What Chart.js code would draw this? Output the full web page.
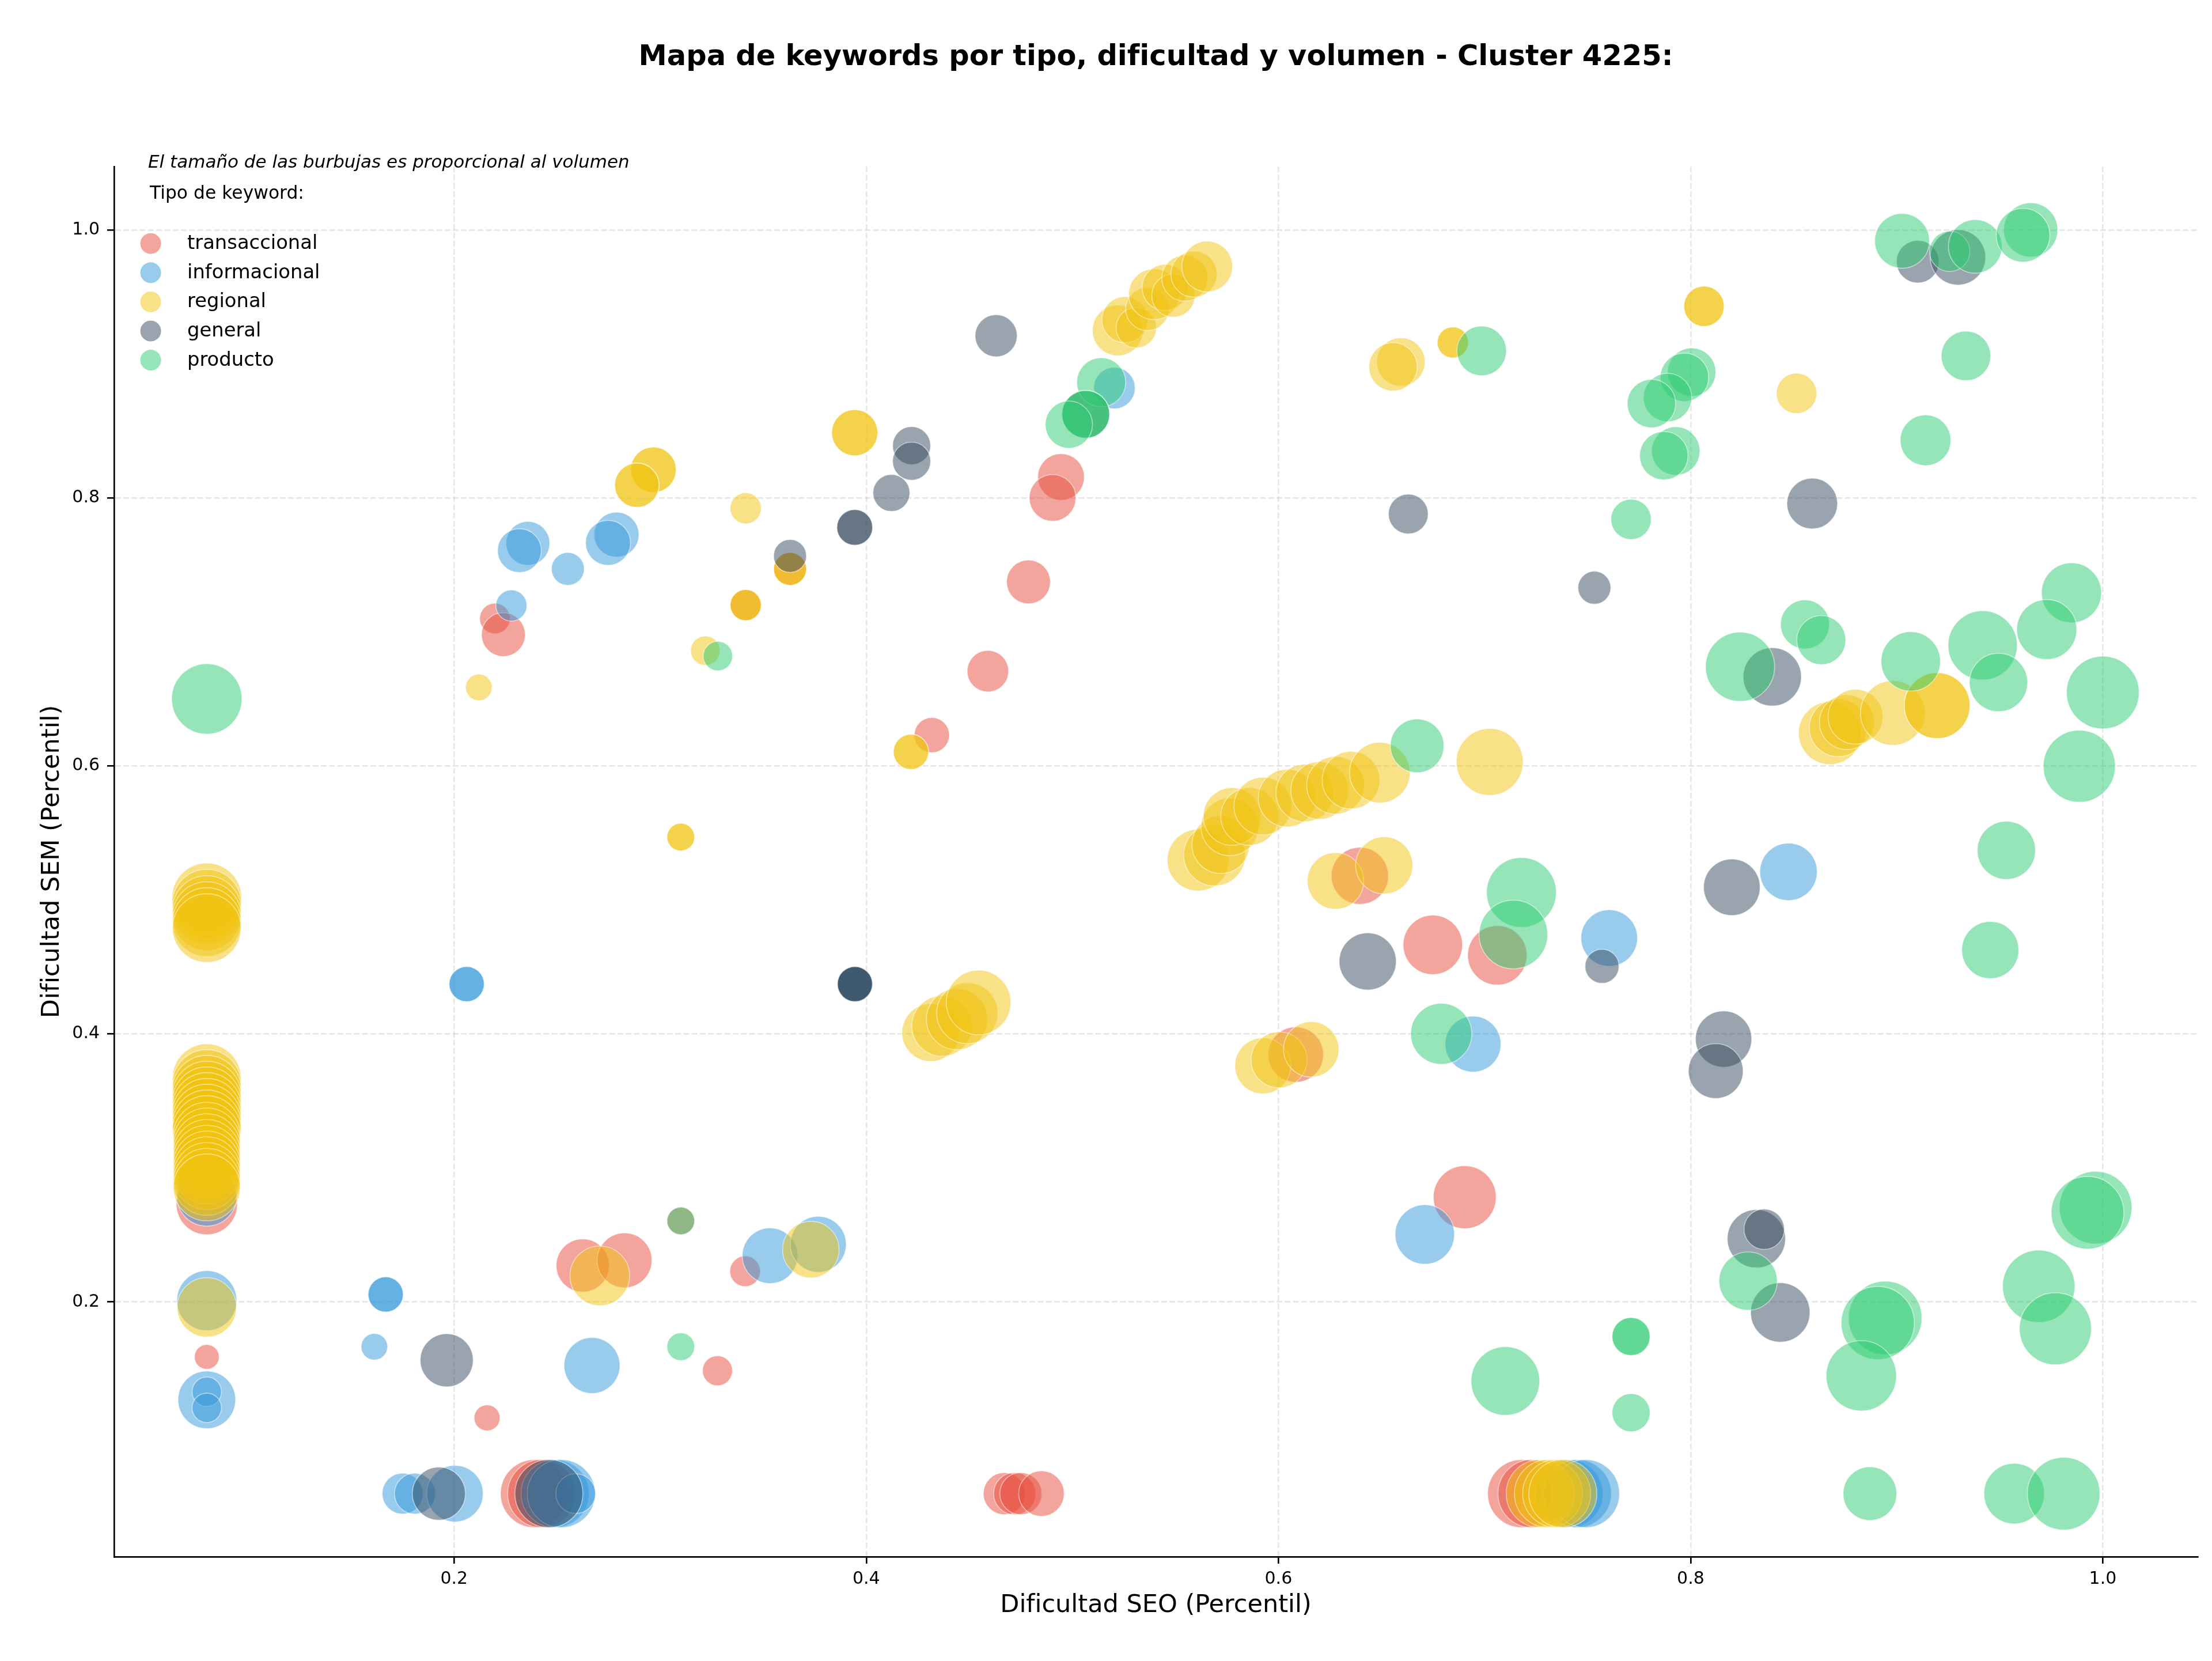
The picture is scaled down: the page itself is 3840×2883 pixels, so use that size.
<!DOCTYPE html>
<html lang="es">
<head>
<meta charset="utf-8">
<title>Mapa de keywords - Cluster 4225</title>
<script src="https://cdn.jsdelivr.net/npm/chart.js@4.4.1/dist/chart.umd.min.js"></script>
<style>
  html, body { margin: 0; padding: 0; background: #ffffff; }
  #mapa { display: block; width: 3840px; height: 2883px; }
</style>
</head>
<body>
<canvas id="mapa" width="3840" height="2883"></canvas>
<script>
// Datos (seo = Dificultad SEO, sem = Dificultad SEM, vol = volumen)
var categorias = ["transaccional", "informacional", "regional", "general", "producto"];
var colores = ["#e74c3c", "#3498db", "#f1c40f", "#34495e", "#2ecc71"];
var xTicks = [0.2, 0.4, 0.6, 0.8, 1.0];
var yTicks = [0.2, 0.4, 0.6, 0.8, 1.0];

var seoTrans = [0.08, 0.08, 0.2198, 0.2239, 0.216, 0.2624, 0.2827, 0.3412, 0.3278, 0.31,
  0.3415, 0.363, 0.239, 0.2425, 0.467, 0.472, 0.475, 0.485, 0.4318, 0.459,
  0.4787, 0.4945, 0.4904, 0.6395, 0.6749, 0.7062, 0.6084, 0.6904, 0.718, 0.723];
var semTrans = [0.273, 0.159, 0.710, 0.698, 0.1135, 0.2272, 0.2311, 0.2229, 0.1487, 0.2605,
  0.72, 0.747, 0.057, 0.057, 0.057, 0.057, 0.057, 0.057, 0.623, 0.6707,
  0.7373, 0.8156, 0.800, 0.518, 0.4665, 0.4587, 0.3846, 0.2782, 0.057, 0.057];
var volTrans = [1248, 205, 312, 642, 225, 940, 1003, 312, 300, 256,
  324, 361, 1547, 1547, 592, 592, 592, 693, 413, 576,
  642, 729, 729, 1089, 1178, 1178, 1024, 1320, 1547, 1547];

var seoInfo = [0.08, 0.08, 0.08, 0.08, 0.08, 0.2358, 0.2317, 0.2552, 0.2788, 0.2747,
  0.2278, 0.2061, 0.2061, 0.3945, 0.1668, 0.1668, 0.1613, 0.2669, 0.3533, 0.3767,
  0.175, 0.181, 0.2004, 0.249, 0.252, 0.259, 0.5204, 0.671, 0.6944, 0.7605,
  0.8475, 0.741, 0.745, 0.749];
var semInfo = [0.279, 0.201, 0.127, 0.133, 0.121, 0.7661, 0.7607, 0.747, 0.7726, 0.7665,
  0.7197, 0.4372, 0.4372, 0.4372, 0.2056, 0.2056, 0.1666, 0.1526, 0.2345, 0.243,
  0.057, 0.057, 0.057, 0.057, 0.057, 0.057, 0.882, 0.2504, 0.3924, 0.4716,
  0.521, 0.057, 0.057, 0.057];
var volInfo = [1202, 1202, 1111, 289, 289, 642, 642, 361, 676, 676,
  324, 413, 413, 413, 413, 413, 235, 1045, 1033, 1045,
  560, 560, 1067, 1547, 1547, 529, 576, 1178, 1045, 1067,
  1100, 1547, 1547, 1547];

var seoReg = [
  0.08, 0.08, 0.08, 0.08, 0.08, 0.08, 0.08, 0.08, 0.08, 0.08,
  0.08, 0.08, 0.08, 0.08, 0.08, 0.08, 0.08, 0.08, 0.08, 0.08,
  0.08, 0.08, 0.08, 0.08, 0.08, 0.08, 0.08,
  0.2967, 0.2967, 0.2887, 0.2887, 0.3415, 0.3415, 0.3415, 0.3219, 0.212, 0.363,
  0.363, 0.3944, 0.3944, 0.4217, 0.4217, 0.31, 0.31,
  0.522, 0.5255, 0.531, 0.5364, 0.5396, 0.545, 0.549, 0.5546, 0.559, 0.5654,
  0.6594, 0.6556, 0.6846, 0.6846, 0.8065, 0.8065, 0.8514,
  0.561, 0.569, 0.572, 0.5764, 0.5775, 0.586, 0.5924, 0.6042, 0.6128, 0.620,
  0.6277, 0.6352, 0.6492,
  0.7025, 0.6277, 0.6513, 0.5924, 0.6003, 0.6159,
  0.4313, 0.4368, 0.444, 0.449, 0.4545,
  0.2707, 0.3731,
  0.8676, 0.8716, 0.8758, 0.88, 0.8981, 0.9196, 0.9196,
  0.727, 0.731, 0.735, 0.738];
var semReg = [
  0.367, 0.3627, 0.3584, 0.3541, 0.3498, 0.3455, 0.3412, 0.3369, 0.3326, 0.3283,
  0.324, 0.3197, 0.3154, 0.3111, 0.3068, 0.3025, 0.2982, 0.2939, 0.2896, 0.2855,
  0.5015, 0.497, 0.4925, 0.488, 0.4835, 0.479, 0.196,
  0.821, 0.821, 0.8095, 0.8095, 0.7923, 0.72, 0.72, 0.686, 0.6586, 0.747,
  0.747, 0.8487, 0.8487, 0.6105, 0.6105, 0.5469, 0.5469,
  0.925, 0.933, 0.927, 0.941, 0.952, 0.957, 0.951, 0.964, 0.967, 0.9727,
  0.9015, 0.8978, 0.916, 0.916, 0.943, 0.943, 0.878,
  0.5297, 0.5335, 0.5413, 0.5546, 0.5623, 0.5623, 0.570, 0.576, 0.5798, 0.5817,
  0.5856, 0.5894, 0.595,
  0.603, 0.5142, 0.5258, 0.3762, 0.3807, 0.3885,
  0.401, 0.406, 0.411, 0.4155, 0.4235,
  0.2195, 0.2391,
  0.6245, 0.6285, 0.6327, 0.6367, 0.6395, 0.645, 0.645,
  0.057, 0.057, 0.057, 0.057];
var volReg = [
  1574, 1574, 1574, 1574, 1574, 1574, 1574, 1574, 1574, 1574,
  1500, 1500, 1500, 1500, 1500, 1500, 1500, 1500, 1500, 1500,
  1627, 1600, 1574, 1574, 1574, 1574, 1178,
  693, 693, 659, 659, 324, 324, 324, 289, 235, 361,
  361, 711, 711, 413, 413, 256, 256,
  860, 711, 544, 625, 860, 711, 625, 711, 711, 860,
  784, 784, 324, 324, 544, 544, 544,
  1272, 1272, 1111, 1111, 1111, 1111, 1111, 1111, 1111, 1111,
  1111, 1111, 1225,
  1495, 1067, 1089, 1045, 1045, 1024,
  1111, 1225, 1248, 1248, 1394,
  1192, 1067,
  1320, 1111, 1003, 1003, 1394, 1444, 1444,
  1547, 1547, 1547, 1547];

var seoGen = [0.1926, 0.246, 0.1964, 0.3945, 0.3945, 0.3945, 0.363, 0.3944, 0.3944, 0.4122,
  0.422, 0.422, 0.463, 0.663, 0.6433, 0.757, 0.7533, 0.859, 0.9102, 0.9297,
  0.8396, 0.820, 0.816, 0.8122, 0.8319, 0.8357, 0.8435, 0.5065];
var semGen = [0.057, 0.057, 0.1565, 0.4372, 0.4372, 0.4372, 0.7567, 0.778, 0.778, 0.8037,
  0.839, 0.8274, 0.921, 0.788, 0.4541, 0.4505, 0.733, 0.7958, 0.9763, 0.9795,
  0.6665, 0.5095, 0.3962, 0.3723, 0.2472, 0.2543, 0.1922, 0.8624];
var volGen = [940, 1547, 940, 413, 413, 413, 361, 427, 427, 455,
  484, 484, 592, 529, 1089, 387, 361, 860, 608, 1024,
  1133, 1067, 1058, 1003, 1133, 544, 1178, 765];

var seoProd = [0.08, 0.328, 0.31, 0.31, 0.514, 0.5065, 0.5065, 0.4983, 0.6673, 0.6986,
  0.8005, 0.797, 0.7888, 0.781, 0.7928, 0.787, 0.9336, 0.914, 0.7711, 0.9026,
  0.9257, 0.9381, 0.965, 0.9613, 0.9848, 0.9728, 0.9417, 0.9494, 0.9068, 0.8555,
  0.8634, 0.824, 1.0, 0.9886, 0.9532, 0.9454, 0.7179, 0.714, 0.679, 0.7101,
  0.7711, 0.7711, 0.7711, 0.8279, 0.8944, 0.8908, 0.8828, 0.9689, 0.977, 0.9965,
  0.9926, 0.887, 0.957, 0.981];
var semProd = [0.650, 0.682, 0.1666, 0.2605, 0.8863, 0.8624, 0.8624, 0.8547, 0.615, 0.9097,
  0.8938, 0.890, 0.8749, 0.8704, 0.835, 0.8315, 0.906, 0.843, 0.784, 0.9918,
  0.984, 0.9877, 1.0, 0.996, 0.7292, 0.7018, 0.690, 0.6623, 0.678, 0.7056,
  0.6939, 0.674, 0.6548, 0.5998, 0.537, 0.4626, 0.5056, 0.4742, 0.4001, 0.141,
  0.1742, 0.1742, 0.1174, 0.2156, 0.1881, 0.1843, 0.1449, 0.2117, 0.180, 0.2704,
  0.2666, 0.057, 0.057, 0.057];
var volProd = [1654, 289, 256, 256, 803, 765, 765, 747, 961, 822,
  784, 784, 784, 784, 784, 784, 822, 860, 544, 1003,
  544, 961, 982, 961, 1202, 1202, 1600, 1133, 1178, 803,
  803, 1600, 1764, 1736, 1133, 1089, 1627, 1574, 1248, 1574,
  484, 484, 484, 1133, 1806, 1792, 1654, 1750, 1736, 1764,
  1764, 961, 1225, 1764];

var titulo = "Mapa de keywords por tipo, dificultad y volumen - Cluster 4225:";
var nota = "El tamaño de las burbujas es proporcional al volumen";
var tituloLeyenda = "Tipo de keyword:";

var fuente = "'DejaVu Sans', sans-serif";

// color hex + alpha -> rgba
function rgba(hex, a) {
  var n = parseInt(hex.slice(1), 16);
  return "rgba(" + (n >> 16) + "," + ((n >> 8) & 255) + "," + (n & 255) + "," + a + ")";
}

// arma los puntos de una serie; radio proporcional a la raiz del volumen (area ~ volumen)
function puntos(seo, sem, vol) {
  return seo.map(function (x, i) {
    return { x: x, y: sem[i], r: Math.sqrt(vol[i]) * 1.5 };
  });
}

var series = [
  puntos(seoTrans, semTrans, volTrans),
  puntos(seoInfo, semInfo, volInfo),
  puntos(seoReg, semReg, volReg),
  puntos(seoGen, semGen, volGen),
  puntos(seoProd, semProd, volProd)
];

var datasets = categorias.map(function (nombre, i) {
  return {
    label: nombre,
    data: series[i],
    backgroundColor: rgba(colores[i], 0.5),
    borderColor: "rgba(255,255,255,0.5)",
    borderWidth: 1.6,
    hoverRadius: 0,
    // como matplotlib: la primera categoria queda debajo
    order: categorias.length - 1 - i
  };
});

// titulo, nota y leyenda dibujados dentro del area
var textosPlugin = {
  id: "textos",
  afterDraw: function (chart) {
    var ctx = chart.ctx;
    var area = chart.chartArea;
    ctx.save();
    ctx.fillStyle = "#000";

    ctx.font = "bold 49.5px " + fuente;
    ctx.textAlign = "center";
    ctx.textBaseline = "middle";
    ctx.fillText(titulo, (area.left + area.right) / 2, 100);

    ctx.textAlign = "left";
    ctx.textBaseline = "alphabetic";
    ctx.font = "italic 31px " + fuente;
    ctx.fillText(nota, 257, 291);

    ctx.font = "31.4px " + fuente;
    ctx.fillText(tituloLeyenda, 260, 345);

    ctx.font = "33.8px " + fuente;
    categorias.forEach(function (nombre, i) {
      var y = 422.7 + i * 50.6;
      ctx.beginPath();
      ctx.arc(261.6, y, 18, 0, Math.PI * 2);
      ctx.fillStyle = rgba(colores[i], 0.5);
      ctx.fill();
      ctx.fillStyle = "#000";
      ctx.fillText(nombre, 325, y + 9.5);
    });
    ctx.restore();
  }
};

var gridColor = "rgba(176,176,176,0.3)";

// quita el margen extra que Chart.js reserva para las etiquetas de los extremos
function sinPadding(s) {
  s.paddingLeft = 0;
  s.paddingRight = 0;
  s.paddingTop = 0;
  s.paddingBottom = 0;
}

new Chart(document.getElementById("mapa").getContext("2d"), {
  type: "bubble",
  data: { datasets: datasets },
  options: {
    responsive: false,
    devicePixelRatio: 1,
    animation: false,
    events: [],
    layout: { autoPadding: false, padding: { top: 289, right: 25, left: 0, bottom: 0 } },
    plugins: {
      legend: { display: false },
      title: { display: false },
      tooltip: { enabled: false }
    },
    scales: {
      x: {
        type: "linear",
        min: 0.035,
        max: 1.046,
        afterBuildTicks: function (s) {
          s.ticks = xTicks.map(function (v) { return { value: v }; });
        },
        afterFit: function (s) { s.height = 181; sinPadding(s); },
        ticks: {
          callback: function (v) { return Number(v).toFixed(1); },
          font: { family: fuente, size: 30 },
          color: "#000",
          padding: 9,
          maxRotation: 0
        },
        grid: {
          color: gridColor,
          lineWidth: 2.67,
          tickColor: "#000",
          tickWidth: 2.67,
          tickLength: 12
        },
        border: { display: true, color: "#000", width: 2.67, dash: [10, 4.3] },
        title: {
          display: true,
          text: "Dificultad SEO (Percentil)",
          font: { family: fuente, size: 43 },
          color: "#000",
          padding: { top: 0, bottom: 70 }
        }
      },
      y: {
        type: "linear",
        min: 0.0099,
        max: 1.0473,
        afterBuildTicks: function (s) {
          s.ticks = yTicks.map(function (v) { return { value: v }; });
        },
        afterFit: function (s) { s.width = 198; sinPadding(s); },
        ticks: {
          callback: function (v) { return Number(v).toFixed(1); },
          font: { family: fuente, size: 30 },
          color: "#000",
          padding: 13
        },
        grid: {
          color: gridColor,
          lineWidth: 2.67,
          tickColor: "#000",
          tickWidth: 2.67,
          tickLength: 12
        },
        border: { display: true, color: "#000", width: 2.67, dash: [10, 4.3] },
        title: {
          display: true,
          text: "Dificultad SEM (Percentil)",
          font: { family: fuente, size: 43 },
          color: "#000",
          padding: { top: 65, bottom: 0 }
        }
      }
    }
  },
  plugins: [textosPlugin]
});
</script>
</body>
</html>
